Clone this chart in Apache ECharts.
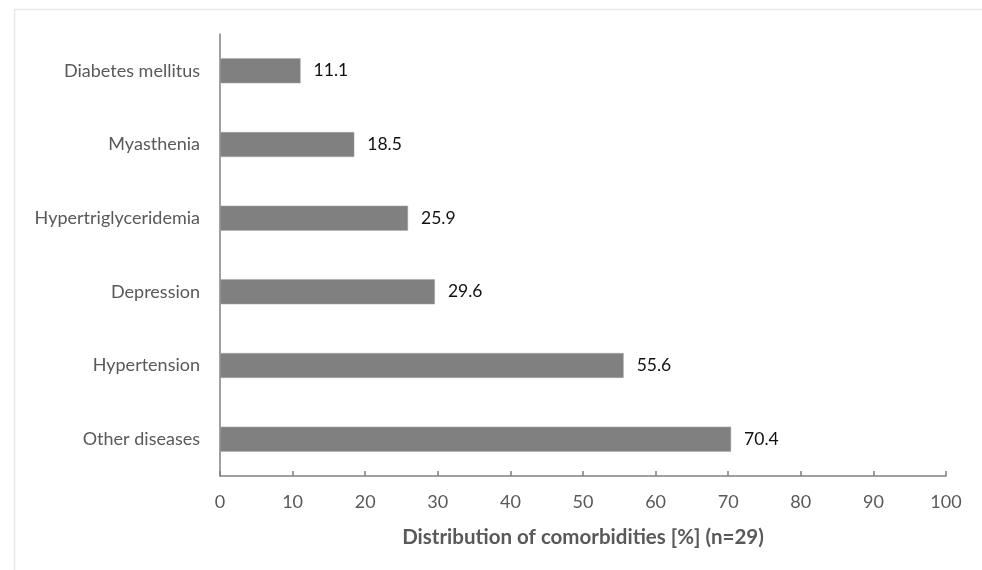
<!DOCTYPE html>
<html>
<head>
<meta charset="utf-8">
<script src="https://cdn.jsdelivr.net/npm/echarts@6/dist/echarts.min.js"></script>
<style>html,body{margin:0;padding:0;background:#fff}#c{width:982px;height:570px}</style>
</head>
<body>
<div id="c"></div>
<script>
const categories = ["Other diseases", "Hypertension", "Depression", "Hypertriglyceridemia", "Myasthenia", "Diabetes mellitus"];
const values = [70.4, 55.6, 29.6, 25.9, 18.5, 11.1];
const xTicks = [0, 10, 20, 30, 40, 50, 60, 70, 80, 90, 100];
const xTitle = "Distribution of comorbidities [%] (n=29)";

const FONT = "Lato, 'Open Sans', sans-serif";
const chart = echarts.init(document.getElementById('c'));
chart.setOption({
  animation: false,
  graphic: [{
    type: 'rect', shape: {x: 14.5, y: 9.5, width: 1000, height: 600},
    style: {fill: 'none', stroke: '#e8e8e8', lineWidth: 1.5}, silent: true
  }],
  grid: {left: 220, right: 36, top: 34, bottom: 94, containLabel: false},
  xAxis: {
    type: 'value', min: xTicks[0], max: xTicks[xTicks.length - 1], interval: 10,
    name: xTitle, nameLocation: 'middle', nameGap: 51,
    nameTextStyle: {fontFamily: FONT, fontSize: 20.5, fontWeight: 'bold', color: '#595959'},
    axisLine: {show: true, lineStyle: {color: '#808080', width: 1.5}},
    axisTick: {show: true, inside: true, length: 5, lineStyle: {color: '#808080', width: 1.5}},
    axisLabel: {fontFamily: FONT, fontSize: 18, color: '#595959', margin: 17},
    splitLine: {show: false}
  },
  yAxis: {
    type: 'category', data: categories,
    axisLine: {show: true, lineStyle: {color: '#808080', width: 1.5}},
    axisTick: {show: false},
    axisLabel: {fontFamily: FONT, fontSize: 18, color: '#595959', margin: 20}
  },
  series: [{
    type: 'bar', data: values, barWidth: 25,
    itemStyle: {color: '#808080', borderColor: '#a6a6a6', borderWidth: 0.5},
    label: {show: true, position: 'right', distance: 13, fontFamily: FONT, fontSize: 17.5, color: '#111',
      formatter: p => p.value.toFixed(1)}
  }]
});
</script>
</body>
</html>
